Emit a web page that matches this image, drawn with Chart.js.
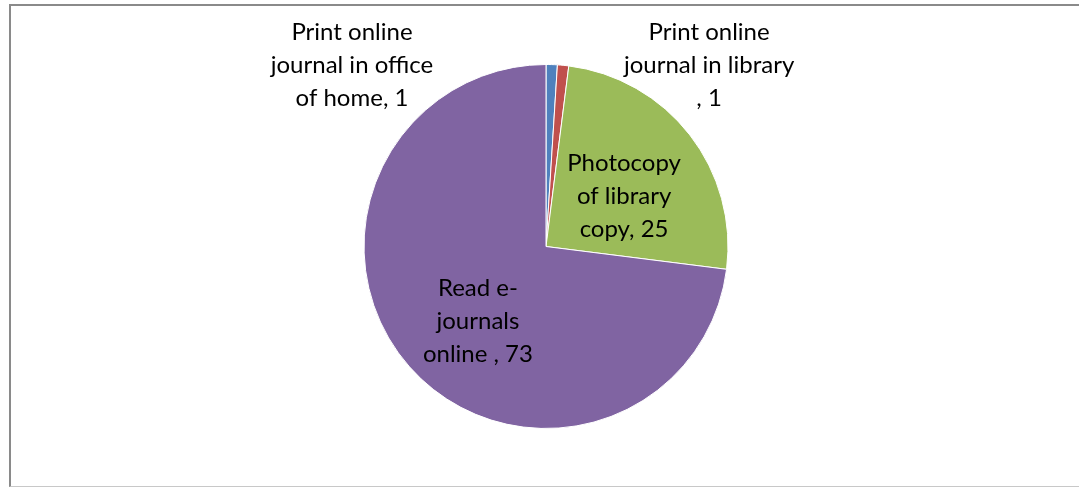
<!DOCTYPE html>
<html>
<head>
<meta charset="utf-8">
<script src="https://cdn.jsdelivr.net/npm/chart.js@4"></script>
<style>
  html, body { margin: 0; padding: 0; background: #fff; }
  #wrap { position: relative; width: 1079px; height: 487px; overflow: hidden; }
  #frame { position: absolute; left: 9px; top: 4px; width: 1100px; height: 480px;
           border-left: 2px solid #8a8a8a; border-top: 2px solid #8a8a8a; border-bottom: 1px solid #c8c8c8; box-sizing: content-box; }
  canvas { position: absolute; left: 0; top: 0; }
</style>
</head>
<body>
<div id="wrap">
  <div id="frame"></div>
  <canvas id="c" width="1079" height="487"></canvas>
</div>
<script>
const categories = [
  "Print online journal in office of home",
  "Print online journal in library ",
  "Photocopy of library copy",
  "Read e-journals online "
];
const values = [1, 1, 25, 73];
const colors = ["#4F81BD", "#C0504D", "#9BBB59", "#8064A2"];
// wrapped data-label text, as shown in the chart
const labelLines = [
  ["Print online", "journal in office", "of home, 1"],
  ["Print online", "journal in library", ", 1"],
  ["Photocopy", "of library", "copy, 25"],
  ["Read e-", "journals", "online , 73"]
];
// label anchor offsets relative to pie centre, in units of the radius (middle line baseline)
const labelOffsets = [
  [-1.066, -0.951],
  [0.896, -0.951],
  [0.429, -0.236],
  [-0.374, 0.451]
];

const labelPlugin = {
  id: 'pieLabels',
  afterDatasetsDraw(chart) {
    const ctx = chart.ctx;
    const meta = chart.getDatasetMeta(0);
    ctx.save();
    ctx.font = '24px Lato';
    ctx.fillStyle = '#000';
    ctx.textAlign = 'center';
    ctx.textBaseline = 'alphabetic';
    const lh = 33;
    meta.data.forEach((arc, i) => {
      const r = arc.outerRadius;
      const cx = arc.x + labelOffsets[i][0] * r;
      const cy = arc.y + labelOffsets[i][1] * r;
      const lines = labelLines[i];
      const mid = (lines.length - 1) / 2;
      lines.forEach((t, j) => {
        ctx.fillText(t, cx, cy + (j - mid) * lh);
      });
    });
    ctx.restore();
  }
};

new Chart(document.getElementById('c'), {
  type: 'pie',
  data: {
    labels: categories,
    datasets: [{
      data: values,
      backgroundColor: colors,
      borderColor: '#ffffff',
      borderWidth: 1
    }]
  },
  options: {
    responsive: false,
    animation: false,
    layout: { padding: { left: 13, right: 0, top: 64, bottom: 58 } },
    plugins: { legend: { display: false }, tooltip: { enabled: false } }
  },
  plugins: [labelPlugin]
});
</script>
</body>
</html>
